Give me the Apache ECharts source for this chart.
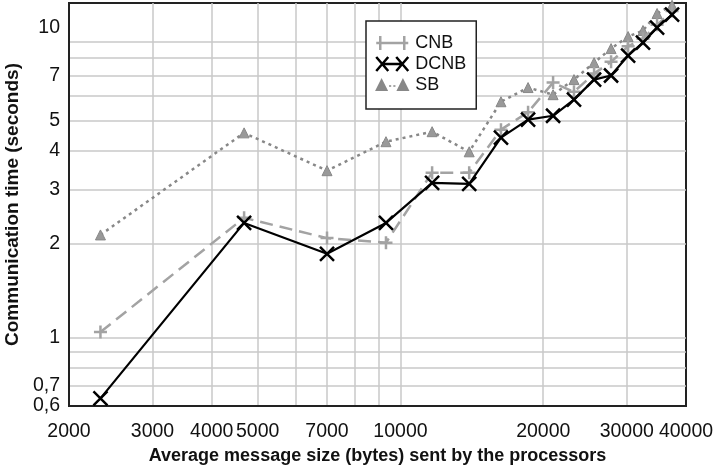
<!DOCTYPE html>
<html>
<head>
<meta charset="utf-8">
<script src="https://cdn.jsdelivr.net/npm/echarts@6/dist/echarts.min.js"></script>
<style>
html,body{margin:0;padding:0;background:#fff;}
#chart{width:715px;height:466px;}
</style>
</head>
<body>
<div id="chart"></div>
<script>
// ---- data ----
const xValues = [2330, 4680, 7000, 9320, 11660, 13960, 16290, 18580, 20980, 23220, 25600, 27800, 30200, 32460, 34760, 37380];
const cnb  = [1.04, 2.43, 2.09, 2.02, 3.40, 3.40, 4.68, 5.33, 6.64, 6.20, 7.10, 7.75, 8.70, 9.20, 10.2, 11.3];
const dcnb = [0.635, 2.34, 1.86, 2.34, 3.15, 3.13, 4.41, 5.04, 5.19, 5.85, 6.79, 7.00, 8.12, 8.94, 10.0, 11.0];
const sb   = [2.14, 4.57, 3.45, 4.28, 4.61, 3.97, 5.76, 6.40, 6.07, 6.79, 7.70, 8.55, 9.35, 9.78, 11.1, 11.8];
const seriesNames = ['CNB', 'DCNB', 'SB'];

const xTickLabels = [2000, 3000, 4000, 5000, 7000, 10000, 20000, 30000, 40000];
const xGridValues = [3000, 4000, 5000, 6000, 7000, 8000, 9000, 10000, 20000, 30000];
const yTickLabels = [0.6, 0.7, 1, 2, 3, 4, 5, 7, 10];
const yGridValues = [0.7, 0.8, 0.9, 1, 2, 3, 4, 5, 6, 7, 8, 9];

const xTitle = 'Average message size (bytes) sent by the processors';
const yTitle = 'Communication time (seconds)';

const FONT = "'Liberation Sans', Arial, sans-serif";
const pairs = (ys) => xValues.map((x, i) => [x, ys[i]]);

const cCNB = '#a3a3a3', cDCNB = '#000000', cSB = '#888888';

const chart = echarts.init(document.getElementById('chart'), null, {renderer: 'canvas'});
chart.setOption({
  animation: false,
  backgroundColor: '#ffffff',
  grid: {left: 69, top: 3, width: 617, height: 403, outerBoundsMode: 'none', containLabel: false,
    show: true, borderColor: '#222', borderWidth: 2, backgroundColor: 'transparent'},
  xAxis: {
    type: 'log', logBase: 10, min: 2000, max: 40000,
    name: xTitle, nameLocation: 'middle', nameGap: 38,
    nameTextStyle: {fontFamily: FONT, fontSize: 18, fontWeight: 'bold', color: '#111'},
    axisLine: {show: true, lineStyle: {color: '#222', width: 2}},
    axisTick: {show: false, customValues: xGridValues},
    axisLabel: {customValues: xTickLabels, margin: 16, fontFamily: FONT, fontSize: 19.5, color: '#111',
      hideOverlap: false, formatter: v => String(Math.round(v))},
    splitLine: {show: true, lineStyle: {color: '#c8c8c8', width: 1.5}},
    minorTick: {show: false}, minorSplitLine: {show: false}
  },
  yAxis: {
    type: 'log', logBase: 10, min: 0.6, max: 12,
    name: yTitle, nameLocation: 'middle', nameGap: 45, nameRotate: 90,
    nameTextStyle: {fontFamily: FONT, fontSize: 19, fontWeight: 'bold', color: '#111'},
    axisLine: {show: true, lineStyle: {color: '#222', width: 2}},
    axisTick: {show: false, customValues: yGridValues},
    axisLabel: {customValues: yTickLabels, margin: 9, fontFamily: FONT, fontSize: 19.5, color: '#111',
      hideOverlap: false, formatter: v => String(+v.toFixed(2)).replace('.', ',')},
    splitLine: {show: true, lineStyle: {color: '#c8c8c8', width: 1.5}},
    minorTick: {show: false}, minorSplitLine: {show: false}
  },
  legend: {
    orient: 'vertical', left: 366, top: 21,
    padding: [13, 10, 15, 9],
    backgroundColor: '#fff', borderColor: '#222', borderWidth: 1.5,
    itemWidth: 32, itemHeight: 14, itemGap: 3,
    textStyle: {fontFamily: FONT, fontSize: 18, color: '#111', padding: [0, 0, 0, 2]},
    data: [
      {name: seriesNames[0], icon: 'path://M0,7L32,7M4,0L4,14M28,0L28,14',
       itemStyle: {color: cCNB, borderColor: cCNB, borderWidth: 2.5}},
      {name: seriesNames[1], icon: 'path://M0,0L12,14M0,14L12,0M20,0L32,14M20,14L32,0M6,7L26,7',
       itemStyle: {color: cDCNB, borderColor: cDCNB, borderWidth: 2.5}},
      {name: seriesNames[2], icon: 'path://M1,13L6,3L11,13ZM21,13L26,3L31,13ZM13,9L15,9M17,9L19,9',
       itemStyle: {color: cSB, borderColor: cSB, borderWidth: 1.5}}
    ]
  },
  series: [
    {
      name: seriesNames[0], type: 'line', data: pairs(cnb), z: 3,
      symbol: 'path://M0,5L10,5M5,0L5,10', symbolSize: 13,
      itemStyle: {color: cCNB, borderColor: cCNB, borderWidth: 2.5},
      lineStyle: {color: cCNB, width: 2.5, type: [13, 7]}
    },
    {
      name: seriesNames[1], type: 'line', data: pairs(dcnb), z: 4,
      symbol: 'path://M0,0L10,10M0,10L10,0', symbolSize: 14,
      itemStyle: {color: cDCNB, borderColor: cDCNB, borderWidth: 2.5},
      lineStyle: {color: cDCNB, width: 2.2}
    },
    {
      name: seriesNames[2], type: 'line', data: pairs(sb), z: 2,
      symbol: 'triangle', symbolSize: 10,
      itemStyle: {color: '#999', borderColor: cSB, borderWidth: 1},
      lineStyle: {color: cSB, width: 2.5, type: [3, 4]}
    }
  ]
});
</script>
</body>
</html>
